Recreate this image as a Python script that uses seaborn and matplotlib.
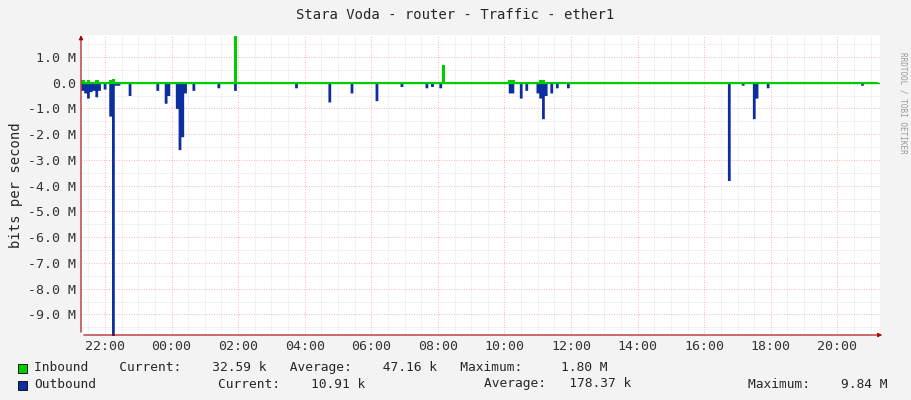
import matplotlib
matplotlib.use("Agg")
import matplotlib.pyplot as plt
import seaborn as sns
import numpy as np
import pandas as pd

# hours (since 00:00 of first day; >24 means next day)
out_t = [21.30, 21.36, 21.42, 21.48, 21.54, 21.60, 21.66, 21.72, 21.80, 21.95, 22.08, 22.18, 22.25, 22.38, 22.68,
         23.50, 23.80, 23.89, 24.10, 24.19, 24.28, 24.37, 24.58, 25.40, 25.88,
         27.68, 28.70, 29.39, 30.08, 30.89, 31.61, 31.76, 32.00,
         34.10, 34.22, 34.46, 34.61, 34.91, 35.00, 35.09, 35.21, 35.33, 35.51, 35.90,
         40.73, 41.12, 41.48, 41.51, 41.87, 44.66]
out_v = [-0.3, -0.4, -0.25, -0.6, -0.35, -0.3, -0.2, -0.55, -0.3, -0.25, -1.3, -9.9, -0.1, -0.1, -0.5,
         -0.3, -0.8, -0.5, -1.0, -2.6, -2.1, -0.4, -0.3, -0.2, -0.3,
         -0.2, -0.75, -0.4, -0.7, -0.15, -0.2, -0.15, -0.2,
         -0.4, -0.4, -0.6, -0.3, -0.4, -0.6, -1.4, -0.5, -0.4, -0.2, -0.2,
         -3.8, -0.1, -1.4, -0.6, -0.2, -0.1]
in_t = [21.30, 21.48, 21.66, 22.08, 22.18, 25.88, 34.10, 34.22, 35.00, 35.09, 32.12]
in_v = [0.1, 0.1, 0.1, 0.12, 0.15, 1.8, 0.12, 0.12, 0.12, 0.1, 0.7]
xtick_hours = [22, 24, 26, 28, 30, 32, 34, 36, 38, 40, 42, 44]
ytick_vals = [1, 0, -1, -2, -3, -4, -5, -6, -7, -8, -9]

x0, x1 = 21.28, 45.28
step = 5 / 60
grid_t = np.arange(x0, x1, step)

def series(ts, vs, base):
    v = np.full(len(grid_t), base)
    for t, val in zip(ts, vs):
        i = int(round((t - x0) / step))
        if 0 <= i < len(v):
            v[i] = val if abs(val) > abs(v[i]) or v[i] == base else v[i]
    return v

out = series(out_t, out_v, -0.02)
inn = series(in_t, in_v, 0.02)
df = pd.DataFrame({"t": grid_t, "out": out, "in": inn})

sns.set_style("white")
plt.rcParams["font.family"] = ["DejaVu Sans Mono"]
fig = plt.figure(figsize=(9.11, 4.0), dpi=100, facecolor="#f3f3f3")
ax = fig.add_axes([81/911, 65/400, 799/911, 300/400])
ax.set_facecolor("white")

ax.fill_between(df["t"], 0, df["out"], step="post", color="#0c2e9e", lw=0)
ax.fill_between(df["t"], 0, df["in"], step="post", color="#00cc00", lw=0)
sns.lineplot(data=df, x="t", y="in", drawstyle="steps-post", color="#00cc00", lw=0.8, ax=ax)

ax.set_xlim(x0, x1)
ax.set_ylim(-9.8, 1.85)
ax.set_xticks(xtick_hours)
ax.set_xticklabels([f"{h % 24:02d}:00" for h in xtick_hours])
ax.set_xticks(np.arange(21.5, 45.3, 0.5), minor=True)
ax.set_yticks(ytick_vals)
ax.set_yticklabels([f"{v:.1f} M" if v != 0 else "0.0" for v in ytick_vals])
ax.set_yticks(np.arange(-9.5, 2.0, 0.5), minor=True)
ax.grid(which="minor", color="#dddddd", lw=0.5, ls=(0, (1, 1)))
ax.grid(which="major", color="#ff9999", lw=0.6, ls=(0, (1, 2)))
ax.tick_params(which="both", length=0, labelsize=9.5, colors="#333333")
for s in ax.spines.values():
    s.set_visible(False)
ax.axhline(0, color="#00cc00", lw=1)
ax.set_xlabel("")
ax.set_ylabel("bits per second", fontsize=10)
ax.annotate("", xy=(x1 + 0.15, -9.8), xytext=(x0, -9.8),
            arrowprops=dict(arrowstyle="-|>", color="#aa0000", lw=0.8, mutation_scale=6), annotation_clip=False)
ax.annotate("", xy=(x0, 1.95), xytext=(x0, -9.8),
            arrowprops=dict(arrowstyle="-|>", color="#aa0000", lw=0.8, mutation_scale=6), annotation_clip=False)

fig.text(0.5, 1 - 15/400, "Stara Voda - router - Traffic - ether1", ha="center", va="center", fontsize=10)
fig.text(903/911, 0.87, "RRDTOOL / TOBI OETIKER", rotation=270, ha="center", va="top", fontsize=5.5, color="#999999")

fig.patches.append(plt.Rectangle((18/911, 1-373/400), 9/911, 9/400, transform=fig.transFigure,
                                 facecolor="#00cc00", edgecolor="black", lw=0.6))
fig.patches.append(plt.Rectangle((18/911, 1-390/400), 9/911, 9/400, transform=fig.transFigure,
                                 facecolor="#0c2e9e", edgecolor="black", lw=0.6))
fig.text(34/911, 1-368/400, "Inbound    Current:    32.59 k   Average:    47.16 k   Maximum:     1.80 M",
         va="center", fontsize=9.3)
fig.text(34/911, 1-384/400, "Outbound", va="center", fontsize=9.3)
fig.text(218/911, 1-384/400, "Current:    10.91 k", va="center", fontsize=9.3)
fig.text(484/911, 1-384/400, "Average:   178.37 k", va="center", fontsize=9.3)
fig.text(748/911, 1-384/400, "Maximum:    9.84 M", va="center", fontsize=9.3)

fig.savefig("out.png", dpi=100, facecolor=fig.get_facecolor())
